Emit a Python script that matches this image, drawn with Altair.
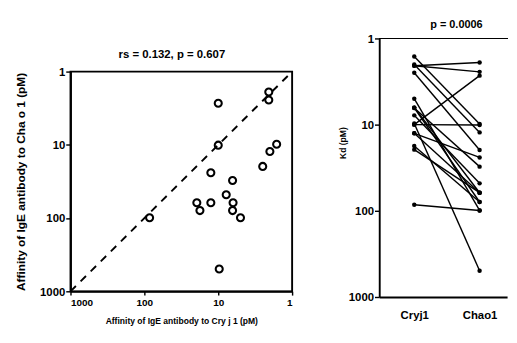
import altair as alt
import pandas as pd

# ---- data ----
groups = ["Cryj1", "Chao1"]
cryj1 = [10, 2.07, 2.07, 10, 1.62, 2.0, 2.5, 12.6, 6.4, 7.8, 6.3, 12.6, 19.5, 17.7, 6.4, 5.0, 85, 9.7]
chao1 = [2.7, 1.9, 2.44, 10.1, 9.8, 12.3, 19.7, 24, 30.7, 48, 61.6, 61.6, 61.6, 79, 79, 99, 99, 495]
tick_values = [1, 10, 100, 1000]
diagonal = [1, 1000]
left_title = "rs = 0.132, p = 0.607"
right_title = "p = 0.0006"
x_title = "Affinity of IgE antibody to Cry j 1 (pM)"
y_title = "Affinity of IgE antibody to Cha o 1 (pM)"
kd_title = "Kd (pM)"

FONT = "Liberation Sans"

scatter_df = pd.DataFrame({"cryj1": cryj1, "chao1": chao1})
diag_df = pd.DataFrame({"v": diagonal})
rows = []
for i, (a, b) in enumerate(zip(cryj1, chao1)):
    rows.append({"id": i, "group": groups[0], "kd": a})
    rows.append({"id": i, "group": groups[1], "kd": b})
pair_df = pd.DataFrame(rows)


def log_scale():
    return alt.Scale(type="log", domain=[1, 1000], reverse=True)


common = dict(labelFont=FONT, titleFont=FONT, labelFontWeight="bold",
              titleFontWeight="bold", labelColor="black", titleColor="black",
              domainColor="black", tickColor="black", grid=False)

# ---- left panel ----
lx = alt.Axis(values=tick_values, format="d", title=x_title, labelFontSize=10.5,
              titleFontSize=9, tickSize=4, tickWidth=1.5, domainWidth=2,
              labelPadding=3, titlePadding=10, labelFlush=True, **common)
ly = alt.Axis(values=tick_values, format="d", title=y_title, labelFontSize=12,
              titleFontSize=12.5, tickSize=5, tickWidth=1.5, domainWidth=2,
              labelPadding=1, titleX=-46, **common)

diag = alt.Chart(diag_df).mark_line(color="black", strokeWidth=2, strokeDash=[8, 7]).encode(
    x=alt.X("v:Q", scale=log_scale(), axis=lx),
    y=alt.Y("v:Q", scale=log_scale(), axis=ly),
)
circles = alt.Chart(scatter_df).mark_point(shape="circle", filled=False, size=55,
                                           strokeWidth=2.2, color="black", opacity=1).encode(
    x=alt.X("cryj1:Q", scale=log_scale(), axis=lx),
    y=alt.Y("chao1:Q", scale=log_scale(), axis=ly),
)
left = alt.layer(diag, circles).properties(
    width=234, height=232,
    title=alt.TitleParams(left_title, font=FONT, fontSize=12, fontWeight="bold",
                          color="black", offset=5, anchor="middle", dx=-10,
                          frame="group"),
    view=alt.ViewBackground(stroke="black", strokeWidth=2),
)

# invisible spacer that pushes the left panel down inside its column
spacer = alt.Chart(pd.DataFrame({"v": [0]})).mark_point(opacity=0, size=1).encode(
    x=alt.X("v:Q", axis=None), y=alt.Y("v:Q", axis=None)
).properties(width=234, height=1, view=alt.ViewBackground(stroke="transparent"))

left_col = alt.vconcat(spacer, left, spacing=8)

# ---- right panel ----
xscale = alt.Scale(domain=groups, padding=0.478, align=0.56)
rx = alt.Axis(title=None, labelFontSize=12, ticks=False, domainWidth=2,
              labelPadding=14, labelAngle=0, **common)
ry = alt.Axis(values=tick_values, format="d", title=kd_title, labelFontSize=12,
              titleFontSize=9, tickSize=5, tickWidth=1.5, domainWidth=2,
              labelPadding=1, titleX=-34, titleY=110, **common)

base = alt.Chart(pair_df)
top_rule = base.mark_rule(color="black", strokeWidth=1.2).encode(y=alt.datum(1))
lines = base.mark_line(color="black", strokeWidth=1.5).encode(
    x=alt.X("group:N", scale=xscale, axis=rx, sort=groups),
    y=alt.Y("kd:Q", scale=log_scale(), axis=ry),
    detail="id:N",
)
dots = base.mark_circle(color="black", size=22, opacity=1).encode(
    x=alt.X("group:N", scale=xscale, axis=rx, sort=groups),
    y=alt.Y("kd:Q", scale=log_scale(), axis=ry),
)
right = alt.layer(lines, dots, top_rule).properties(
    width=135, height=273,
    title=alt.TitleParams(right_title, font=FONT, fontSize=11.5, fontWeight="bold",
                          color="black", offset=2.5, anchor="middle", dx=14,
                          frame="group"),
    view=alt.ViewBackground(stroke="transparent"),
)

chart = alt.hconcat(left_col, right, spacing=43).properties(
    padding={"left": 5, "top": 2, "right": 0, "bottom": 0},
    background="white",
).configure_view(stroke=None)

chart.save("out.html", embed_options={"renderer": "svg", "actions": False})
